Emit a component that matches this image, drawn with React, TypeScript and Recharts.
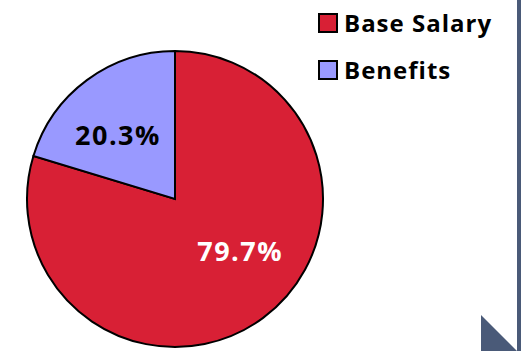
import React from "react"
import { PieChart, Pie, Cell, Legend } from "recharts"

// Compensation split
const categories = ["Base Salary", "Benefits"]
const shares = [79.7, 20.3]
const colors = ["#D82035", "#9999FF"]
const labelColors = ["#FFFFFF", "#000000"]

const data = categories.map((name, i) => ({ name, value: shares[i] }))

const FONT = "'Open Sans', Lato, sans-serif"

const renderLabel = (props: any) => {
  const { cx, cy, midAngle, outerRadius, index, percent } = props
  // small nudge like Excel's best-fit placement
  const angle = midAngle + (index === 0 ? 14 : 6)
  const r = outerRadius * 0.57
  const rad = (Math.PI / 180) * angle
  const x = cx + r * Math.cos(rad)
  const y = cy - r * Math.sin(rad) - 2
  return (
    <text
      x={x}
      y={y}
      fill={labelColors[index]}
      textAnchor="middle"
      dominantBaseline="central"
      fontFamily={FONT}
      fontWeight={700}
      fontSize={27}
      letterSpacing={1.5}
    >
      {`${(percent * 100).toFixed(1)}%`}
    </text>
  )
}

const renderLegend = () => (
  <div style={{ fontFamily: FONT, fontWeight: 700, fontSize: 24, color: "#000", letterSpacing: 1 }}>
    {categories.map((c, i) => (
      <div key={c} style={{ display: "flex", alignItems: "center", height: 47 }}>
        <span
          style={{
            display: "inline-block",
            width: 16,
            height: 16,
            background: colors[i],
            border: "2px solid #000",
            marginRight: 6,
          }}
        />
        <span>{c}</span>
      </div>
    ))}
  </div>
)

export default function App() {
  return (
    <div style={{ position: "absolute", left: 0, top: 0, width: 527, height: 351, background: "#fff", overflow: "hidden" }}>
      <PieChart width={527} height={351} margin={{ top: 0, right: 0, bottom: 0, left: 0 }}>
        <Pie
          data={data}
          dataKey="value"
          nameKey="name"
          cx={175}
          cy={199}
          outerRadius={148}
          startAngle={90}
          endAngle={-270}
          stroke="#000"
          strokeWidth={2}
          labelLine={false}
          label={renderLabel}
          isAnimationActive={false}
        >
          {data.map((entry, index) => (
            <Cell key={`cell-${index}`} fill={colors[index]} />
          ))}
        </Pie>
        <Legend content={renderLegend} wrapperStyle={{ left: 318, top: -1, width: 200 }} />
      </PieChart>
      <svg width={527} height={351} style={{ position: "absolute", left: 0, top: 0, pointerEvents: "none" }}>
        <rect x={517} y={0} width={4} height={351} fill="#4A5A78" />
        <polygon points="481,315 481,351 517,351" fill="#4A5A78" />
      </svg>
    </div>
  )
}
